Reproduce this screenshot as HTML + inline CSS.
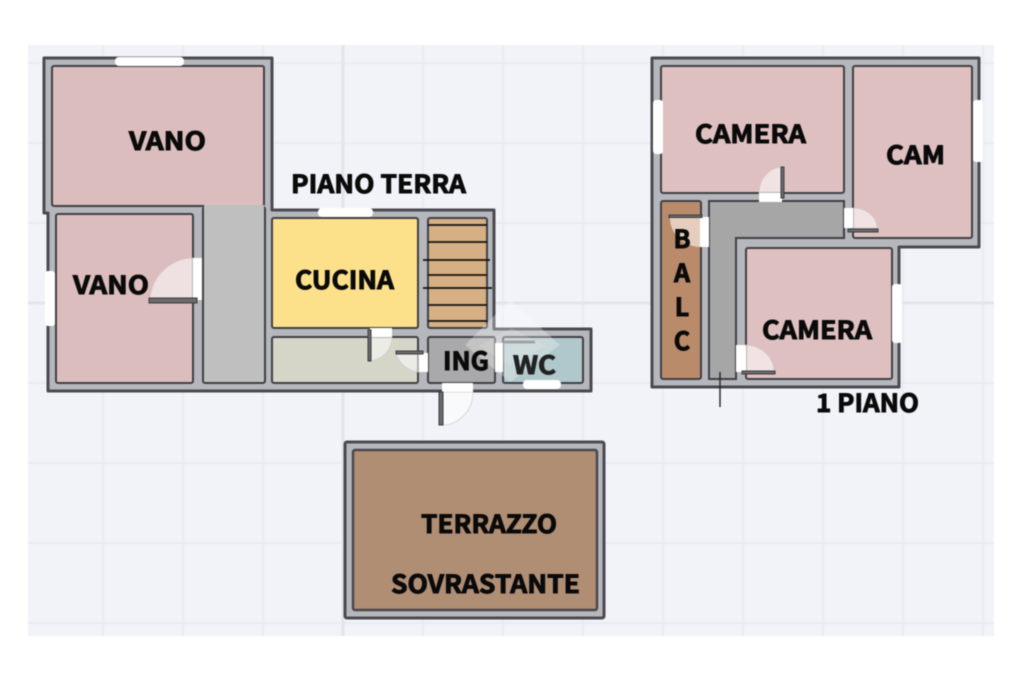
<!DOCTYPE html>
<html><head><meta charset="utf-8"><style>
html,body{margin:0;padding:0;background:#fff;width:1024px;height:682px;overflow:hidden}
svg{display:block;filter:blur(0.6px)}
text{font-family:"Noto Sans CJK JP","Liberation Sans",sans-serif;font-weight:700;font-size:25px;fill:#0a0a0a;stroke:#0a0a0a;stroke-width:.9px}
.o{fill:#b5b7bc;stroke:#4a4a50;stroke-width:3;stroke-linejoin:round}
.r{stroke:#404045;stroke-width:2}
.w{fill:#fff}
.l{fill:#6b6b6e;stroke:#3c3c40;stroke-width:1}
.s{stroke:#141210;stroke-width:1.8}
.a{fill:#fff;fill-opacity:.55;stroke:#cfc9c9;stroke-width:.7}
</style></head><body>
<svg width="1024" height="682" viewBox="0 0 1024 682" xmlns="http://www.w3.org/2000/svg">
<rect width="1024" height="682" fill="#fff"/>
<rect x="28" y="45" width="966" height="591" fill="#f1f3f9"/>
<g stroke="#eaebf0" stroke-width="2">
<path d="M103 45V636M183 45V636M263 45V636M423 45V636M503 45V636M583 45V636M663 45V636M743 45V636M823 45V636M903 45V636M983 45V636"/>
<path d="M28 63H994M28 143H994M28 223H994M28 383H994M28 463H994M28 543H994M28 623H994"/>
</g>
<path d="M343 45V636M28 303H994" stroke="#e3e4e9" stroke-width="3"/>

<!-- ground floor -->
<path class="o" d="M44 58H272V210H494V329H591V391H48V213H44Z"/>
<rect class="r" x="52" y="66" width="212" height="140" rx="2" fill="#dcbdbd"/>
<rect class="r" x="56" y="214" width="137" height="169" rx="2" fill="#dcbdbd"/>
<rect class="r" x="203" y="207" width="62" height="176" rx="2" fill="#bfbfc0"/>
<rect x="204" y="205" width="60" height="6" fill="#bfbfc0"/>
<rect class="r" x="272" y="218" width="146" height="110" rx="2" fill="#fde08a"/>
<rect class="r" x="428" y="218" width="59" height="110" rx="2" fill="#d6b084"/>
<rect class="r" x="272" y="337" width="146" height="46" rx="2" fill="#d5d6c8"/>
<rect class="r" x="428" y="337" width="67" height="46" rx="2" fill="#a9a9ab"/>
<rect class="r" x="503" y="337" width="80" height="46" rx="2" fill="#b0c8cb"/>
<path class="s" d="M428 225H487M428 242H487M423 260H490M428 275H487M423 288H492M428 305H487M428 321H487"/>

<!-- ground windows + doors -->
<rect class="w" x="115" y="57" width="69" height="9" rx="4"/>
<rect class="w" x="318" y="208" width="55" height="9" rx="4"/>
<rect class="w" x="45" y="271" width="10" height="55" rx="3"/>
<rect class="w" x="523" y="380" width="38" height="9" rx="4"/>
<path class="a" d="M193 258A44 44 0 0 0 150 300H193Z"/>
<rect class="w" x="193" y="258" width="9" height="42"/>
<rect class="l" x="149" y="298" width="48" height="5"/>
<path class="a" d="M392 337A24 24 0 0 1 370 361V337Z"/>
<rect class="w" x="370" y="328" width="22" height="9"/>
<rect class="l" x="368" y="330" width="3" height="31"/>
<path class="a" d="M396 353A26 26 0 0 0 419 372V353Z"/>
<rect class="w" x="419" y="353" width="9" height="19"/>
<rect class="l" x="396" y="351" width="27" height="3"/>
<path class="a" d="M442 392V425A31 33 0 0 0 473 392Z" fill-opacity=".4"/>
<rect class="w" x="442" y="383" width="31" height="9"/>
<rect class="l" x="439" y="392" width="4" height="33"/>
<rect class="w" x="495" y="343" width="8" height="29"/>
<path d="M503 342H535" stroke="#66696c" stroke-width="3"/>
<!-- watermark -->
<path d="M510 300L560 345L510 382L465 345Z" fill="#fff" fill-opacity=".3"/>
<path d="M512 328L478 346L510 365L545 346Z" fill="#fff" fill-opacity=".12"/>

<!-- first floor -->
<path class="o" d="M652 58H979V247H899V387H652Z"/>
<rect class="r" x="661" y="66" width="183" height="127" rx="2" fill="#dfc0c0"/>
<rect class="r" x="853" y="66" width="119" height="172" rx="2" fill="#dfc0c0"/>
<rect class="r" x="661" y="201" width="40" height="178" rx="2" fill="#b98b6a"/>
<path class="r" d="M709 201H844V238H736V379H709Z" fill="#a6a6a7"/>
<rect class="r" x="746" y="248" width="146" height="131" rx="2" fill="#dfc0c0"/>
<rect class="w" x="653" y="100" width="10" height="54" rx="3"/>
<rect class="w" x="973" y="100" width="10" height="62" rx="3"/>
<rect class="w" x="892" y="284" width="10" height="59" rx="3"/>
<path class="a" d="M759 193A24 26 0 0 1 782 167V193Z"/>
<rect class="w" x="759" y="193" width="23" height="9"/>
<rect class="l" x="781" y="167" width="3" height="31"/>
<path class="a" d="M853 208A24 20 0 0 1 877 228H853Z"/>
<rect class="w" x="844" y="208" width="9" height="20"/>
<rect class="l" x="848" y="229" width="30" height="3"/>
<path class="a" d="M746 345A29 27 0 0 1 774 372H746Z"/>
<rect class="w" x="736" y="345" width="10" height="27"/>
<rect class="l" x="742" y="371" width="33" height="3"/>
<path d="M670 218H701V247A31 29 0 0 1 670 218Z" fill="#ecd9cb" fill-opacity=".85"/>
<rect class="w" x="700" y="217" width="9" height="30"/>
<rect class="l" x="669" y="215" width="33" height="2.5"/>
<path d="M720 372V407" stroke="#222" stroke-width="1.4"/>

<!-- terrace -->
<rect class="o" x="345" y="442" width="259" height="176" rx="2"/>
<rect x="353" y="450" width="244" height="160" rx="2" fill="#b08e74" stroke="#48484c" stroke-width="2.5"/>

<!-- labels -->
<text x="129" y="150" textLength="77" lengthAdjust="spacingAndGlyphs">VANO</text>
<text x="291" y="193" textLength="175" lengthAdjust="spacingAndGlyphs">PIANO TERRA</text>
<text x="73" y="294" textLength="76" lengthAdjust="spacingAndGlyphs">VANO</text>
<text x="295" y="289" textLength="99" lengthAdjust="spacingAndGlyphs">CUCINA</text>
<text x="443" y="370" textLength="46" lengthAdjust="spacingAndGlyphs">ING</text>
<text x="513" y="374" textLength="43" lengthAdjust="spacingAndGlyphs" style="fill:#222;stroke:#222">WC</text>
<text x="695" y="143" textLength="111" lengthAdjust="spacingAndGlyphs">CAMERA</text>
<text x="886" y="164" textLength="59" lengthAdjust="spacingAndGlyphs">CAM</text>
<text x="682" y="248" text-anchor="middle">B</text>
<text x="682" y="282" text-anchor="middle">A</text>
<text x="682" y="316" text-anchor="middle">L</text>
<text x="682" y="350" text-anchor="middle">C</text>
<text x="762" y="339" textLength="110" lengthAdjust="spacingAndGlyphs">CAMERA</text>
<text x="816" y="412" textLength="103" lengthAdjust="spacingAndGlyphs">1 PIANO</text>
<text x="421" y="533" textLength="136" lengthAdjust="spacingAndGlyphs">TERRAZZO</text>
<text x="391" y="593" textLength="189" lengthAdjust="spacingAndGlyphs">SOVRASTANTE</text>
</svg>
</body></html>
